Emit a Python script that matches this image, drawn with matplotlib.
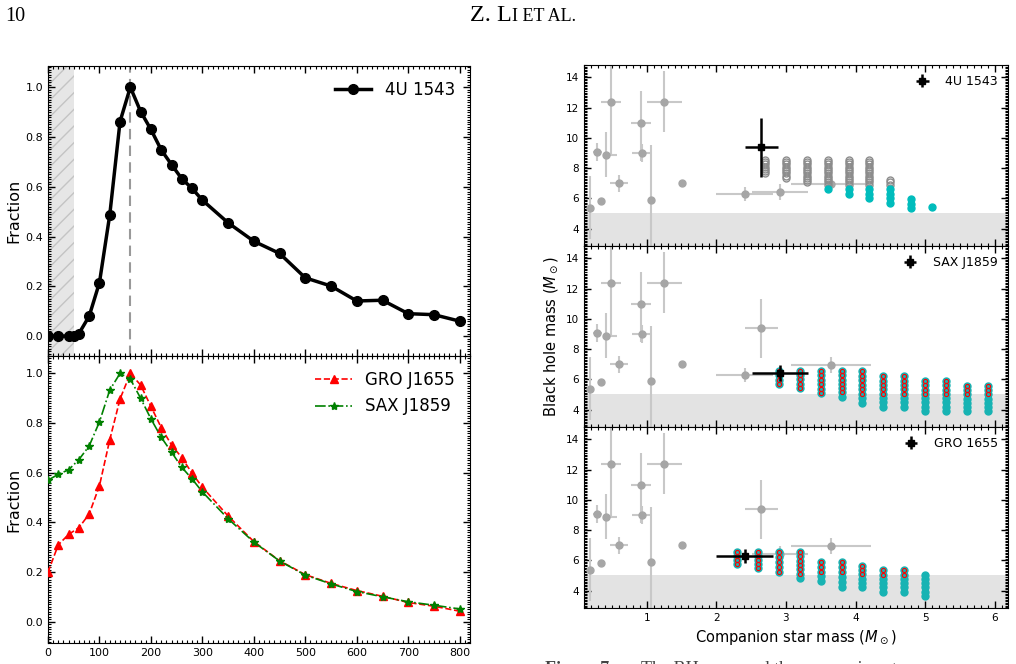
import numpy as np
import matplotlib
matplotlib.use('Agg')
import matplotlib.pyplot as plt
from matplotlib.ticker import MultipleLocator

# ---------------- Left panels: kick velocity distributions ----------------
vk_top = [0, 20, 40, 50, 60, 80, 100, 120, 140, 160, 180, 200, 220, 240, 260, 280, 300,
          350, 400, 450, 500, 550, 600, 650, 700, 750, 800]
frac_4u1543 = [0.0, 0.0, 0.0, 0.0, 0.01, 0.08, 0.215, 0.487, 0.862, 1.0, 0.902, 0.83, 0.748,
               0.689, 0.632, 0.593, 0.546, 0.455, 0.381, 0.332, 0.234, 0.201, 0.141, 0.144,
               0.09, 0.086, 0.06]

vk_bot = [0, 20, 40, 60, 80, 100, 120, 140, 160, 180, 200, 220, 240, 260, 280, 300,
          350, 400, 450, 500, 550, 600, 650, 700, 750, 800]
frac_gro1655 = [0.20, 0.31, 0.352, 0.379, 0.434, 0.548, 0.733, 0.897, 1.0, 0.953, 0.867,
                0.782, 0.712, 0.661, 0.598, 0.542, 0.426, 0.323, 0.246, 0.19, 0.155, 0.126,
                0.103, 0.078, 0.063, 0.043]
frac_sax1859 = [0.57, 0.594, 0.612, 0.653, 0.708, 0.805, 0.933, 1.0, 0.977, 0.90, 0.817,
                0.743, 0.683, 0.622, 0.575, 0.523, 0.415, 0.321, 0.245, 0.188, 0.153, 0.122,
                0.101, 0.081, 0.067, 0.052]
excluded_vk = (0, 50)
peak_vk = 160

# ---------------- Right panels: BH mass vs companion mass ----------------
# literature black-hole binaries (grey)
lit_x = [0.19, 0.29, 0.34, 0.42, 0.49, 0.60, 0.92, 0.94, 1.06, 1.25, 1.51, 3.65]
lit_y = [5.39, 9.07, 5.83, 8.85, 12.37, 7.00, 10.98, 9.00, 5.87, 12.37, 7.00, 6.97]
lit_xlo = [0.0, 0.06, 0.0, 0.05, 0.15, 0.13, 0.15, 0.15, 0.0, 0.25, 0.0, 0.57]
lit_xhi = [0.0, 0.07, 0.0, 0.16, 0.14, 0.13, 0.14, 0.14, 0.0, 0.26, 0.0, 0.57]
lit_ylo = [2.09, 0.57, 0.0, 1.45, 3.48, 0.58, 2.48, 0.60, 3.50, 1.98, 0.0, 0.55]
lit_yhi = [2.07, 0.60, 0.0, 1.55, 3.00, 0.57, 2.09, 0.57, 3.63, 2.03, 0.0, 0.50]

# the three studied sources
src_names = ['4U 1543', 'SAX J1859', 'GRO 1655']
src_x = [2.64, 2.91, 2.41]
src_y = [9.40, 6.40, 6.27]
src_xlo = [0.23, 0.40, 0.41]
src_xhi = [0.24, 0.41, 0.40]
src_ylo = [1.99, 0.48, 0.46]
src_yhi = [1.93, 0.57, 0.50]

# panel 1 (4U 1543) model grid
p1_grey_x = [2.7, 3.0, 3.3, 3.6, 3.9, 4.2, 4.5]
p1_grey_hi = [8.55, 8.55, 8.55, 8.55, 8.55, 8.55, 7.2]
p1_grey_lo = [7.65, 7.35, 7.05, 6.9, 6.9, 6.9, 6.9]
p1_cyan_x = [3.6, 3.9, 4.2, 4.5, 4.8, 5.1]
p1_cyan_hi = [6.6, 6.6, 6.6, 6.6, 5.95, 5.4]
p1_cyan_lo = [6.6, 6.3, 6.0, 5.7, 5.35, 5.4]

# panel 2 (SAX J1859) model grid
p2_x = [2.9, 3.2, 3.5, 3.8, 4.1, 4.4, 4.7, 5.0, 5.3, 5.6, 5.9]
p2_hi = [6.55, 6.55, 6.55, 6.55, 6.55, 6.2, 6.2, 5.9, 5.9, 5.55, 5.55]
p2_lo = [5.7, 5.45, 5.1, 4.85, 4.45, 4.2, 4.2, 3.9, 3.9, 3.9, 3.9]
p2_red_min = [5.0] * 11

# panel 3 (GRO 1655) model grid
p3_x = [2.3, 2.6, 2.9, 3.2, 3.5, 3.8, 4.1, 4.4, 4.7, 5.0]
p3_hi = [6.55, 6.55, 6.55, 6.55, 5.86, 5.86, 5.64, 5.33, 5.33, 5.04]
p3_lo = [5.75, 5.48, 5.2, 4.82, 4.66, 4.22, 4.22, 3.93, 3.93, 3.65]
p3_red_min = [5.0, 5.0, 5.0, 5.0, 5.0, 5.0, 5.0, 5.0, 5.0, 9.0]

step = 0.3
grey_step = 0.15


def column(lo, hi, st):
    n = int(round((hi - lo) / st)) + 1
    return np.linspace(lo, hi, n)


W, H = 1016, 664
fig = plt.figure(figsize=(W / 100, H / 100), dpi=100)


def fx(px):
    return px / W


def fy(py):
    return 1 - py / H


def style_axes(ax, fs):
    ax.tick_params(which='both', direction='in', top=True, right=True, labelsize=fs)
    ax.tick_params(which='major', length=5, width=1)
    ax.tick_params(which='minor', length=2.5, width=0.8)


# ---------- Left top ----------
axL1 = fig.add_axes([fx(48), fy(356), fx(470) - fx(48), fy(66) - fy(356)])
axL1.axvspan(*excluded_vk, facecolor='#e6e6e6', edgecolor='#c4c4c4', hatch='//',
             linewidth=0, zorder=0)
axL1.axvline(peak_vk, color='#999999', ls=(0, (5, 3)), lw=1.5, zorder=1)
axL1.plot(vk_top, frac_4u1543, '-o', color='black', lw=2.5, ms=7, label='4U 1543', zorder=3)
axL1.set_xlim(0, 820)
axL1.set_ylim(-0.08, 1.085)
axL1.set_ylabel('Fraction', fontsize=11.5, labelpad=3)
axL1.xaxis.set_major_locator(MultipleLocator(100))
axL1.xaxis.set_minor_locator(MultipleLocator(10))
axL1.yaxis.set_major_locator(MultipleLocator(0.2))
axL1.yaxis.set_minor_locator(MultipleLocator(0.01))
style_axes(axL1, 8)
axL1.tick_params(labelbottom=False)
axL1.legend(loc='upper right', frameon=False, fontsize=12, handlelength=2.2)

# ---------- Left bottom ----------
axL2 = fig.add_axes([fx(48), fy(643), fx(470) - fx(48), fy(356) - fy(643)])
axL2.plot(vk_bot, frac_gro1655, '--^', color='red', lw=1.2, ms=6, label='GRO J1655', zorder=3)
axL2.plot(vk_bot, frac_sax1859, '-.*', color='green', lw=1.2, ms=6, label='SAX J1859', zorder=3)
axL2.set_xlim(0, 820)
axL2.set_ylim(-0.085, 1.07)
axL2.set_ylabel('Fraction', fontsize=11.5, labelpad=3)
axL2.set_xlabel('$V_k$ (km/s)', fontsize=12)
axL2.xaxis.set_major_locator(MultipleLocator(100))
axL2.xaxis.set_minor_locator(MultipleLocator(10))
axL2.yaxis.set_major_locator(MultipleLocator(0.2))
axL2.yaxis.set_minor_locator(MultipleLocator(0.01))
style_axes(axL2, 8)
axL2.legend(loc='upper right', frameon=False, fontsize=12, handlelength=2.2)

# ---------- Right panels ----------
tops = [65, 246, 427]
bots = [246, 427, 608]
raxes = []
for i in range(3):
    ax = fig.add_axes([fx(584), fy(bots[i]), fx(1008) - fx(584), fy(tops[i]) - fy(bots[i])])
    raxes.append(ax)
    ax.axhspan(0, 5, color='#e3e3e3', lw=0, zorder=0)
    ax.errorbar(lit_x, lit_y, xerr=[lit_xlo, lit_xhi], yerr=[lit_ylo, lit_yhi],
                fmt='o', color='#a6a6a6', ecolor='#c8c8c8', elinewidth=1.5, ms=5,
                capsize=0, zorder=2)
    for j in range(3):
        if j != i:
            ax.errorbar([src_x[j]], [src_y[j]], xerr=[[src_xlo[j]], [src_xhi[j]]],
                        yerr=[[src_ylo[j]], [src_yhi[j]]], fmt='o', color='#a6a6a6',
                        ecolor='#c8c8c8', elinewidth=1.5, ms=5, capsize=0, zorder=2)
    ax.set_xlim(0.1, 6.19)
    ax.set_ylim(2.85, 14.82)
    ax.xaxis.set_major_locator(MultipleLocator(1))
    ax.xaxis.set_minor_locator(MultipleLocator(0.1))
    ax.yaxis.set_major_locator(MultipleLocator(2))
    ax.yaxis.set_minor_locator(MultipleLocator(0.1))
    style_axes(ax, 7.5)
    if i < 2:
        ax.tick_params(labelbottom=False)

cyan = '#00bcbc'

# panel 1 grid
ax = raxes[0]
for x, lo, hi in zip(p1_grey_x, p1_grey_lo, p1_grey_hi):
    ys = column(lo, hi, grey_step)
    ax.plot([x] * len(ys), ys, 'o', mfc='none', mec='#8c8c8c', mew=1.0, ms=5, zorder=3)
for x, lo, hi in zip(p1_cyan_x, p1_cyan_lo, p1_cyan_hi):
    ys = column(lo, hi, step)
    ax.plot([x] * len(ys), ys, 'o', color=cyan, ms=5, zorder=3)

# panel 2 and 3 grids
for ax, xs, los, his, rmins in [(raxes[1], p2_x, p2_lo, p2_hi, p2_red_min),
                                (raxes[2], p3_x, p3_lo, p3_hi, p3_red_min)]:
    for x, lo, hi, rmin in zip(xs, los, his, rmins):
        ys = column(lo, hi, step)
        ax.plot([x] * len(ys), ys, 'o', color='#17b3b3', ms=5, zorder=3)
        yr = ys[ys >= rmin]
        ax.plot([x] * len(yr), yr, 'o', mfc='none', mec='red', mew=0.8, ms=3, zorder=4)

# highlighted source in each panel
for i, ax in enumerate(raxes):
    ax.errorbar([src_x[i]], [src_y[i]], xerr=[[src_xlo[i]], [src_xhi[i]]],
                yerr=[[src_ylo[i]], [src_yhi[i]]], fmt='s', color='black', ms=5,
                elinewidth=1.8, capsize=0, zorder=6, label=src_names[i])
    ax.legend(loc='upper right', frameon=False, fontsize=9, handlelength=0.9,
              handletextpad=1.4, borderaxespad=0.4)

raxes[1].set_ylabel(r'Black hole mass ($M_\odot$)', fontsize=10.5)
raxes[2].set_xlabel(r'Companion star mass ($M_\odot$)', fontsize=10.5)

# ---------- page header and caption fragment ----------
serif = ['Liberation Serif', 'DejaVu Serif']
fig.text(fx(5), fy(21), '10', family=serif, fontsize=14.5, va='baseline', ha='left')
t1 = fig.text(fx(470), fy(21), 'Z. L', family=serif, fontsize=17.5, va='baseline', ha='left')
fig.canvas.draw()
bb = t1.get_window_extent(renderer=fig.canvas.get_renderer())
fig.text(bb.x1 / W, fy(21), 'I ET AL.', family=serif, fontsize=13, va='baseline', ha='left')

fig.text(fx(545), fy(674), 'Figure 7.', family=serif, fontsize=13, weight='bold',
         va='baseline', ha='left', color='#444444')
fig.text(fx(641), fy(674), 'The BH mass and the companion star mass', family=serif,
         fontsize=13, va='baseline', ha='left', color='#444444')

fig.savefig('out.png', dpi=100)
